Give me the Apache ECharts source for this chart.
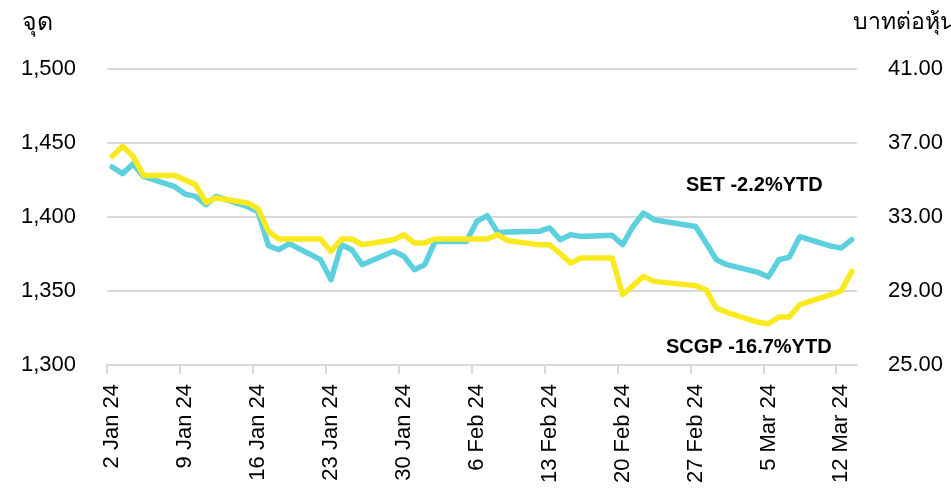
<!DOCTYPE html>
<html>
<head>
<meta charset="utf-8">
<script src="https://cdn.jsdelivr.net/npm/echarts@6/dist/echarts.min.js"></script>
<style>
html,body{margin:0;padding:0;background:#fff;}
#chart{width:951px;height:488px;}
</style>
</head>
<body>
<div id="chart"></div>
<script>
const dates = ['2024-01-02','2024-01-03','2024-01-04','2024-01-05','2024-01-08','2024-01-09','2024-01-10','2024-01-11','2024-01-12',
  '2024-01-15','2024-01-16','2024-01-17','2024-01-18','2024-01-19','2024-01-22','2024-01-23','2024-01-24','2024-01-25','2024-01-26',
  '2024-01-29','2024-01-30','2024-01-31','2024-02-01','2024-02-02','2024-02-05','2024-02-06','2024-02-07','2024-02-08','2024-02-09',
  '2024-02-12','2024-02-13','2024-02-14','2024-02-15','2024-02-16','2024-02-19','2024-02-20','2024-02-21','2024-02-22','2024-02-23',
  '2024-02-27','2024-02-28','2024-02-29','2024-03-01','2024-03-04','2024-03-05','2024-03-06','2024-03-07','2024-03-08',
  '2024-03-11','2024-03-12','2024-03-13'];
const setIndex = [1433.8,1429.3,1435.8,1427.4,1420.5,1415.5,1413.9,1408.3,1413.9,
  1407.0,1403.5,1380.6,1377.9,1382.0,1371.1,1357.6,1381.3,1377.9,1367.8,
  1376.8,1373.5,1364.4,1367.8,1383.5,1383.5,1397.0,1400.9,1389.6,1389.8,
  1390.3,1392.6,1384.7,1388.0,1386.9,1387.6,1381.3,1393.6,1402.7,1398.2,
  1393.6,1382.6,1371.1,1367.8,1362.6,1359.5,1371.1,1372.8,1386.7,
  1380.3,1379.1,1384.7];
const scgpPrice = [36.28,36.82,36.28,35.25,35.25,35.00,34.75,33.79,34.03,
  33.76,33.45,32.22,31.81,31.81,31.81,31.14,31.81,31.81,31.50,
  31.77,32.04,31.60,31.60,31.81,31.81,31.81,31.81,32.04,31.72,
  31.50,31.50,31.02,30.51,30.78,30.78,28.80,29.29,29.79,29.52,
  29.29,29.07,28.08,27.85,27.31,27.23,27.59,27.59,28.26,
  28.80,29.02,30.06];
const xTickDates = ['2024-01-02','2024-01-09','2024-01-16','2024-01-23','2024-01-30','2024-02-06','2024-02-13','2024-02-20','2024-02-27','2024-03-05','2024-03-12'];
const xTickLabels = ['2 Jan 24','9 Jan 24','16 Jan 24','23 Jan 24','30 Jan 24','6 Feb 24','13 Feb 24','20 Feb 24','27 Feb 24','5 Mar 24','12 Mar 24'];
const leftAxisName = 'จุด';
const rightAxisName = 'บาทต่อหุ้น';
const setNote = 'SET -2.2%YTD';
const scgpNote = 'SCGP -16.7%YTD';

const base = Date.parse('2024-01-02T00:00:00Z');
const dayOf = s => Math.round((Date.parse(s + 'T00:00:00Z') - base) / 864e5);
const labelDays = xTickDates.map(dayOf);
const tickDays = labelDays.map(d => d - 0.5);
const lastDay = dayOf(dates[dates.length - 1]);

const FONT = "'Liberation Sans', Arial, 'Noto Sans', sans-serif";
const chart = echarts.init(document.getElementById('chart'), null, {renderer: 'canvas'});
chart.setOption({
  animation: false,
  backgroundColor: '#ffffff',
  grid: {left: 107, right: 94, top: 69, bottom: 123, containLabel: false},
  xAxis: {
    type: 'value',
    min: -0.5,
    max: lastDay + 0.5,
    axisLine: {show: true, lineStyle: {color: '#d9d9d9', width: 2}},
    axisTick: {show: true, length: 9, customValues: tickDays, lineStyle: {color: '#d9d9d9', width: 2}},
    axisLabel: {
      show: true, rotate: 90, margin: 19, customValues: labelDays,
      color: '#000', fontSize: 22, fontFamily: FONT,
      formatter: v => { const i = labelDays.indexOf(Math.round(v)); return i >= 0 ? xTickLabels[i] : ''; }
    },
    splitLine: {show: false}
  },
  yAxis: [
    {
      type: 'value', position: 'left', min: 1300, max: 1500, interval: 50,
      axisLine: {show: false}, axisTick: {show: false},
      axisLabel: {color: '#000', fontSize: 22, fontFamily: FONT, margin: 31,
        formatter: v => v.toLocaleString('en-US')},
      splitLine: {show: true, lineStyle: {color: '#d9d9d9', width: 2}}
    },
    {
      type: 'value', position: 'right', min: 25, max: 41, interval: 4,
      axisLine: {show: false}, axisTick: {show: false},
      axisLabel: {color: '#000', fontSize: 22, fontFamily: FONT, margin: 31,
        formatter: v => v.toFixed(2)},
      splitLine: {show: false}
    }
  ],
  series: [
    {
      name: 'SET', type: 'line', yAxisIndex: 0, symbol: 'none', smooth: false,
      data: dates.map((d, i) => [dayOf(d), setIndex[i]]),
      lineStyle: {color: '#5dd0df', width: 5.5, cap: 'round', join: 'round'},
      itemStyle: {color: '#5dd0df'}, z: 2
    },
    {
      name: 'SCGP', type: 'line', yAxisIndex: 1, symbol: 'none', smooth: false,
      data: dates.map((d, i) => [dayOf(d), scgpPrice[i]]),
      lineStyle: {color: '#fbe920', width: 5.5, cap: 'round', join: 'round'},
      itemStyle: {color: '#fbe920'}, z: 3
    }
  ],
  graphic: [
    {type: 'text', left: 22, top: 11, style: {text: leftAxisName, fill: '#000', font: '25px ' + FONT}},
    {type: 'text', left: 853, top: 11, style: {text: rightAxisName, fill: '#000', font: '23px ' + FONT}},
    {type: 'text', left: 686, top: 175, style: {text: setNote, fill: '#000', font: 'bold 20px ' + FONT}},
    {type: 'text', left: 666, top: 337, style: {text: scgpNote, fill: '#000', font: 'bold 20px ' + FONT}}
  ]
});
</script>
</body>
</html>
